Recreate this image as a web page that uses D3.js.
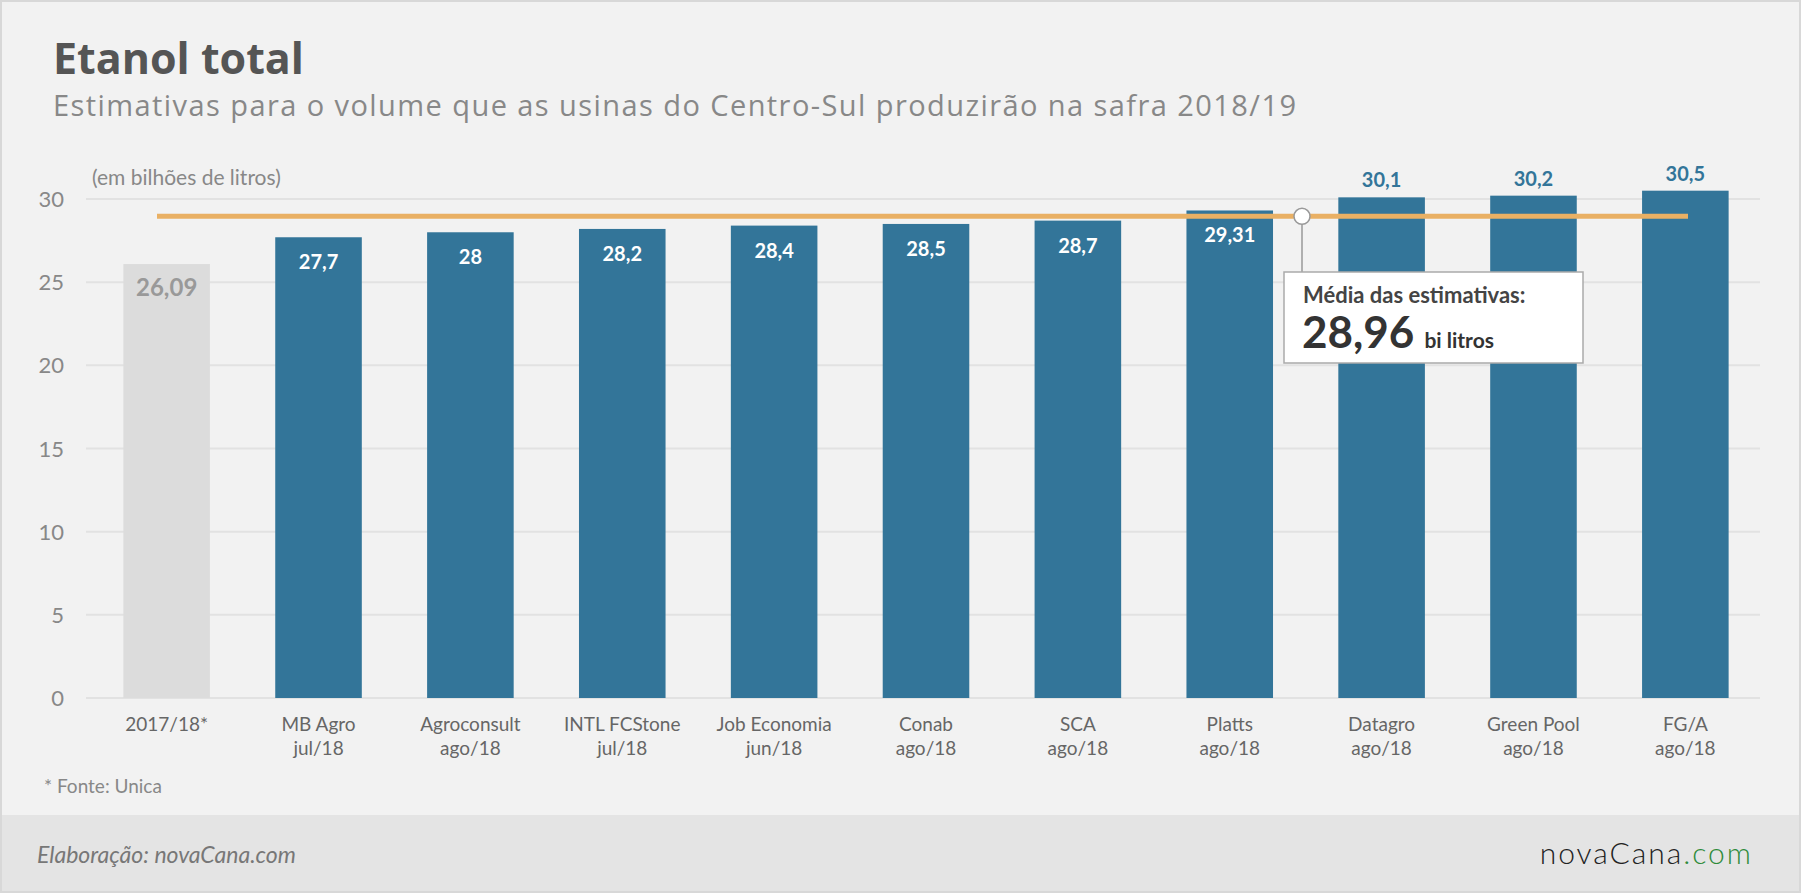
<!DOCTYPE html>
<html><head><meta charset="utf-8">
<script src="https://cdn.jsdelivr.net/npm/d3@7"></script>
<style>body{margin:0;background:#f2f2f2;font-family:Lato,"Open Sans",sans-serif}</style>
</head><body><svg id="c" width="1801" height="893"></svg>
<script>
const names = ["2017/18*", "MB Agro", "Agroconsult", "INTL FCStone", "Job Economia", "Conab", "SCA", "Platts", "Datagro", "Green Pool", "FG/A"];
const dates = ["", "jul/18", "ago/18", "jul/18", "jun/18", "ago/18", "ago/18", "ago/18", "ago/18", "ago/18", "ago/18"];
const values = [26.09, 27.7, 28, 28.2, 28.4, 28.5, 28.7, 29.31, 30.1, 30.2, 30.5];
const labels = ["26,09", "27,7", "28", "28,2", "28,4", "28,5", "28,7", "29,31", "30,1", "30,2", "30,5"];
const yTicks = [0, 5, 10, 15, 20, 25, 30];
const media = 28.96;

const svg = d3.select("#c");
svg.append("rect").attr("x", 1).attr("y", 1).attr("width", 1799).attr("height", 891)
  .attr("fill", "#f2f2f2").attr("stroke", "#d8d8d8").attr("stroke-width", 2);
svg.append("rect").attr("x", 2).attr("y", 815).attr("width", 1797).attr("height", 76).attr("fill", "#e4e4e4");

svg.append("text").attr("x", 53).attr("y", 74).attr("font-family", "Open Sans").attr("font-size", 43).attr("font-weight", 700).attr("fill", "#555").text("Etanol total");
svg.append("text").attr("x", 53).attr("y", 116).attr("font-family", "Open Sans").attr("font-size", 29).attr("fill", "#888")
  .attr("textLength", 1243).text("Estimativas para o volume que as usinas do Centro-Sul produzirão na safra 2018/19");
svg.append("text").attr("x", 92).attr("y", 185).attr("font-size", 21).attr("fill", "#888").text("(em bilhões de litros)");

const x = d3.scaleBand().domain(names).range([93, 1759]).paddingInner(0.43).paddingOuter(0.2);
const y = d3.scaleLinear().domain([0, 30]).range([698, 199]);

svg.selectAll(".grid").data(yTicks).join("line")
  .attr("x1", 86).attr("x2", 1760).attr("y1", d => y(d)).attr("y2", d => y(d))
  .attr("stroke", "#e2e2e2").attr("stroke-width", 2);
svg.selectAll(".yt").data(yTicks).join("text")
  .attr("x", 64).attr("y", d => y(d) + 8).attr("text-anchor", "end")
  .attr("font-size", 22).attr("fill", "#888").text(d => d);

svg.selectAll(".bar").data(values).join("rect")
  .attr("x", (d, i) => x(names[i])).attr("width", x.bandwidth())
  .attr("y", d => y(d)).attr("height", d => y(0) - y(d))
  .attr("fill", (d, i) => i === 0 ? "#dcdcdc" : "#337599");

svg.selectAll(".vl").data(values).join("text")
  .attr("x", (d, i) => x(names[i]) + x.bandwidth() / 2)
  .attr("y", (d, i) => i >= 8 ? y(d) - 10 : y(d) + 32)
  .attr("text-anchor", "middle").attr("font-weight", 700)
  .attr("font-size", (d, i) => i === 0 ? 24 : 20)
  .attr("fill", (d, i) => i === 0 ? "#999" : i >= 8 ? "#337599" : "#fff")
  .text((d, i) => labels[i]);

const xl = svg.selectAll(".xl").data(names).join("text")
  .attr("x", d => x(d) + x.bandwidth() / 2).attr("y", 731)
  .attr("text-anchor", "middle").attr("font-size", 19).attr("fill", "#666");
xl.append("tspan").text(d => d);
xl.append("tspan").attr("x", d => x(d) + x.bandwidth() / 2).attr("dy", 24).text((d, i) => dates[i]);

svg.append("text").attr("x", 44).attr("y", 793).attr("font-size", 19).attr("fill", "#888").text("* Fonte: Unica");

// linha da média
const ym = y(media);
svg.append("line").attr("x1", 157).attr("x2", 1688).attr("y1", ym).attr("y2", ym)
  .attr("stroke", "#e9b064").attr("stroke-width", 5);
svg.append("line").attr("x1", 1302).attr("x2", 1302).attr("y1", ym).attr("y2", 272)
  .attr("stroke", "#999").attr("stroke-width", 1.5);
svg.append("circle").attr("cx", 1302).attr("cy", ym).attr("r", 8)
  .attr("fill", "#fff").attr("stroke", "#999").attr("stroke-width", 1.5);
svg.append("rect").attr("x", 1284).attr("y", 272).attr("width", 299).attr("height", 91)
  .attr("fill", "#fff").attr("stroke", "#aaa").attr("stroke-width", 1.5);
svg.append("text").attr("x", 1303).attr("y", 303).attr("font-size", 22).attr("font-weight", 700).attr("fill", "#444").text("Média das estimativas:");
const t = svg.append("text").attr("x", 1302).attr("y", 348).attr("fill", "#333");
t.append("tspan").attr("font-size", 44).attr("font-weight", 700).text("28,96");
t.append("tspan").attr("font-size", 21).attr("font-weight", 700).attr("dx", 10).text("bi litros");

svg.append("text").attr("x", 37).attr("y", 863).attr("font-size", 23).attr("font-style", "italic").attr("fill", "#777").text("Elaboração: novaCana.com");
const logo = svg.append("text").attr("x", 1753).attr("y", 864).attr("text-anchor", "end").attr("font-size", 30).attr("font-weight", 300).attr("letter-spacing", 2);
logo.append("tspan").attr("fill", "#222").text("novaCana");
logo.append("tspan").attr("fill", "#2e8b3a").text(".com");
</script></body></html>
